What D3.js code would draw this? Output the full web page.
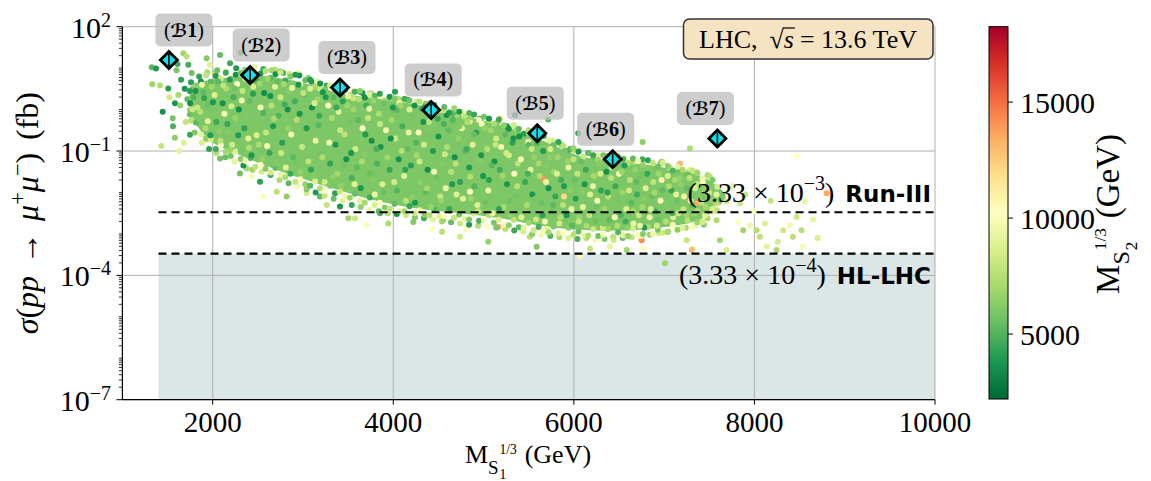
<!DOCTYPE html>
<html><head><meta charset="utf-8">
<script src="https://cdn.jsdelivr.net/npm/d3@7"></script>
<style>body{margin:0;background:#fff}svg{display:block}</style>
</head><body>
<svg id="chart" width="1151" height="481"></svg>
<script>
// ---------------- DATA ----------------
const xTicks = [2000, 4000, 6000, 8000, 10000];
const yTickExponents = [2, -1, -4, -7];
const colorTicks = [5000, 10000, 15000];
const benchmarkNames = ["1", "2", "3", "4", "5", "6", "7"];
const benchmarkMass = [1515, 2415, 3410, 4420, 5595, 6430, 7590];
const benchmarkSigma = [15.7, 6.8, 3.4, 0.98, 0.27, 0.063, 0.20];
const reachSigma = [3.33e-3, 3.33e-4];
const reachExponent = ["\u22123", "\u22124"];
const reachNames = ["Run-III", "HL-LHC"];
const reachStartMass = 1400;
// dense core of the scan (log10 sigma envelope)
const coreMass     = [1745, 1970, 2200, 2500, 2970, 3410, 3850, 4300, 4740, 5180, 5625, 6070, 6510, 6950, 7400, 7620, 7680];
const coreLogUpper = [0.55, 0.72, 0.78, 0.82, 0.66, 0.40, 0.26, 0.10, -0.13, -0.37, -0.72, -1.12, -1.26, -1.38, -1.60, -1.90, -2.05];
const coreLogLower = [-0.15, -0.75, -1.00, -1.28, -1.65, -1.95, -2.22, -2.40, -2.50, -2.62, -2.80, -2.90, -2.92, -2.85, -2.65, -2.30, -2.15];
// scan points: [M_S1 (GeV), log10 sigma (fb), M_S2 (GeV)]
const outerPoints = [
[1325,1.02,5200],[1372,0.99,3900],[1331,0.61,6800],[1416,0.58,7400],[1508,0.51,4100],[1446,-0.05,3600],[1557,-0.21,5800],[1582,-0.68,6400],[1431,-0.88,7900],[1630,-1.00,9200],[1675,1.36,6900],[1712,1.28,7600],[1730,1.08,4700],[1767,0.88,5600],[1619,0.35,7100],[1582,0.15,3800],[1749,-0.01,6300],[1767,-0.25,8100],[1749,-0.61,4400],[1480,1.15,3500],[1600,0.95,5900],[1650,0.72,4200],[1520,0.30,8300],[1690,0.50,3700],[1640,0.10,6600],[1700,-0.30,7800],[1560,-0.40,4900],[1680,-0.80,8800],[1720,0.25,5300],[1610,1.10,4500],
[1745,0.45,4200],[1770,0.30,6900],[1750,0.15,3600],[1775,0.00,8200],[1748,-0.12,5600],
[1933,1.24,6200],[2081,1.32,5400],[1970,1.08,8900],[2192,1.12,4600],[2025,0.88,7300],[2310,1.37,4800],[2690,0.97,7700],[2782,0.88,5100],[2948,0.88,9400],[2893,0.63,6000],[3096,0.67,3900],[3188,0.51,8200],[3742,0.39,5700],[3797,0.35,9900],[3686,0.15,6300],[4019,0.43,4100],[4111,0.23,7400],[4038,-0.01,5200],[3631,0.43,3600],[3557,0.27,8000],[4104,0.23,6600],[4683,-0.13,4400],[4590,-0.13,3500],[4701,-0.13,7100],[4849,-0.29,8600],[4960,-0.37,5900],[5182,-0.21,11500],[5348,-0.13,3800],[5716,-0.24,5000],[5495,-0.78,10400],[6049,-0.57,4300],[5791,-0.81,6800],[5993,-0.98,7900],[6215,-1.14,5600],[6658,-1.26,8300],[6621,-1.30,6100],[6972,-1.26,7000],[6762,-0.78,6400],[7285,-0.94,7200],[7175,-1.30,13200],[7285,-1.46,8700],
[2081,-1.18,5800],[2432,-1.62,9800],[2561,-2.10,10100],[2709,-1.98,7600],[2819,-2.10,6500],[2524,-1.74,4200],[2376,-1.42,7000],[3041,-2.02,8400],[3188,-2.10,5300],[3262,-2.30,7900],[3410,-2.34,3700],[3502,-2.62,6900],[3576,-2.62,8100],[3705,-2.79,10000],[3945,-2.75,7200],[4221,-2.71,6200],[3853,-2.50,4800],[2192,-0.98,6700],[1933,-0.73,8300],[2302,-1.54,5600],
[4433,-2.88,10300],[4540,-2.95,7500],[4550,-2.67,6000],[4740,-3.07,8200],[4809,-2.89,10100],[5052,-3.19,6700],[5163,-2.83,13800],[5513,-3.07,7300],[5698,-2.87,8900],[5588,-3.31,6100],[6178,-3.35,7800],[6400,-3.31,9200],[6585,-3.39,6900],[6751,-3.15,14200],[6768,-3.35,10400],[6067,-3.53,10600],[7249,-3.15,8000],[7322,-3.35,9500],[7009,-3.71,6800],[5661,-1.66,14000],[5891,-2.10,12000],[4849,-1.98,10200],
[8467,-1.12,10300],[8800,-2.02,13500],[8559,-2.21,9400],[8467,-2.59,8200],[8426,-3.07,7600],[8537,-3.31,9900],[8260,-3.19,8500],[8245,-3.39,7100],[8116,-2.75,8800],[8024,-2.91,7400],[7950,-2.79,9600],[7876,-2.91,6900],[7839,-2.26,8100],[7820,-2.71,10200],[8061,-3.07,7700],[8135,-3.31,9000],[8319,-2.91,8300],[8393,-2.79,9700],[8522,-2.91,7500],[7692,-3.39,8600],[7618,-3.15,7000],[7507,-1.62,7800],[7581,-2.30,9200],[7452,-1.94,6600],[7360,-2.26,13600],[7305,-3.39,13000],[7692,-2.22,8400],[7581,-2.67,7300],[7750,-1.85,9100],[7900,-2.05,8000],[8000,-2.45,10000],[8180,-2.20,7900],[8650,-2.65,9300],[8700,-3.10,8700],
[1850,0.80,4300],[1940,0.90,7200],[2050,0.95,5600],[2150,0.92,8800],[2260,1.00,3900],[2360,0.96,6500],[2460,1.02,9300],[2560,0.98,4700],[2650,0.95,7000],[2750,0.92,5200],[2850,0.86,8100],[2960,0.82,3700],[3060,0.76,6400],[3160,0.68,9000],[3260,0.58,4600],[3360,0.52,7300],[3460,0.48,5500],[3560,0.44,8400],[3660,0.40,3800],[3760,0.38,6800],[3860,0.34,9600],[3960,0.30,5000],[4060,0.26,7500],[4160,0.24,4200],[4260,0.20,8700],[4360,0.14,6000],[4460,0.05,3900],[4560,-0.02,7800],[4660,-0.08,5300],[4760,-0.05,9100],[4860,-0.18,6600],[4960,-0.22,4500],[5060,-0.25,8000],[5160,-0.30,6200],[5260,-0.40,3700],[5360,-0.45,7400],[5460,-0.55,9500],[5560,-0.60,5600],[5660,-0.62,4100],[5760,-0.75,8200],[5860,-0.85,6700],[5960,-0.95,5000],[6060,-1.00,7600],[6160,-1.05,4300],[6260,-1.10,9000],[6360,-1.12,6300],[6460,-1.15,5400],[6560,-1.18,8500],[6660,-1.22,7100],[6760,-1.20,4600],[6860,-1.28,9200],[6960,-1.30,6000],[7060,-1.40,7900],[7160,-1.45,5500],[7260,-1.50,8600],[7360,-1.52,6900],
[1800,-0.55,6000],[1880,-0.80,8700],[1960,-0.95,4200],[2040,-1.05,7300],[2140,-1.15,5500],[2240,-1.25,9200],[2340,-1.35,3800],[2440,-1.45,6800],[2540,-1.50,8500],[2640,-1.58,4600],[2740,-1.70,7100],[2840,-1.78,5300],[2940,-1.85,9700],[3040,-1.92,6200],[3140,-2.00,3900],[3240,-2.08,7800],[3340,-2.15,5600],[3440,-2.20,8900],[3540,-2.30,4400],[3640,-2.35,6600],[3740,-2.42,9400],[3840,-2.45,5100],[3940,-2.50,7400],[4040,-2.52,3700],[4140,-2.55,8300],[4240,-2.60,6000],[4340,-2.62,4700],[4440,-2.65,9000],[4540,-2.70,6900],[4640,-2.72,5400],[4740,-2.75,8100],[4840,-2.78,4000],[4940,-2.80,7300],[5040,-2.82,10100],[5140,-2.85,5900],[5240,-2.88,7700],[5340,-2.92,4500],[5440,-2.95,8600],[5540,-3.00,6300],[5640,-3.02,9500],[5740,-3.05,5000],[5840,-3.08,7200],[5940,-3.10,8800],[6040,-3.12,4800],[6140,-3.10,7500],[6240,-3.15,9900],[6340,-3.12,6100],[6440,-3.15,8400],[6540,-3.10,5200],[6640,-3.08,7800],[6740,-3.05,9600],[6840,-3.02,6700],[6940,-2.98,8200],[7040,-2.95,5700],[7140,-2.90,9300],[7240,-2.85,7000],[7340,-2.80,8700],[7440,-2.78,6400]
];
const edgeTopPoints = [
[1760,0.66,4100],[1815,0.58,6300],[1870,0.68,3700],[1925,0.83,7800],[1980,0.67,5200],[2035,0.81,3900],[2090,0.75,8400],[2145,0.89,4500],[2200,0.75,6600],[2255,0.84,3600],[2310,0.88,5800],[2365,0.74,9000],[2420,0.95,4300],[2475,0.80,6900],[2530,0.87,3800],[2585,0.93,7400],[2640,0.76,5000],[2695,0.85,3500],[2750,0.90,8100],[2805,0.70,4600],[2860,0.79,6200],[2915,0.84,3900],[2970,0.62,9400],[3025,0.71,5400],[3080,0.72,4000],[3135,0.55,7100],[3190,0.63,3600],[3245,0.49,6000],[3300,0.58,8600],[3355,0.53,4400],[3410,0.38,5600],[3465,0.48,3700],[3520,0.35,7700],[3575,0.43,4800],[3630,0.45,6400],[3685,0.29,3500],[3740,0.37,8800],[3795,0.33,5100],[3850,0.38,4200],[3905,0.22,7000],[3960,0.31,3800],[4015,0.27,6100],[4070,0.16,9200],[4125,0.26,4700],[4180,0.22,5700],[4235,0.10,3600],[4290,0.19,7500],[4345,0.06,4300],[4400,0.15,6700],[4455,0.11,3900],[4510,-0.02,8300],[4565,0.06,5300],[4620,-0.07,4000],[4675,0.03,6800],[4730,-0.05,3700],[4785,-0.16,7900],[4840,-0.08,5000],[4895,-0.12,4400],[4950,-0.25,9600],[5005,-0.17,5900],[5060,-0.22,3800],[5115,-0.34,7200],[5170,-0.24,4600],[5225,-0.38,6500],[5280,-0.46,3600],[5335,-0.37,8500],[5390,-0.47,5200],[5445,-0.58,4100],[5500,-0.50,7300],[5555,-0.60,4700],[5610,-0.72,6000],[5665,-0.64,3900],[5720,-0.74,8900],[5775,-0.86,5500],[5830,-0.78,4300],[5885,-0.88,7600],[5940,-0.99,5000],[5995,-0.93,6700],[6050,-1.02,3800],[6105,-1.14,8200],[6160,-1.05,5400],[6215,-1.10,4500],[6270,-1.21,7000],[6325,-1.10,5900],[6380,-1.16,3700],[6435,-1.25,8700],[6490,-1.13,6200],[6545,-1.20,4800],[6600,-1.29,7400],[6655,-1.18,5300],[6710,-1.24,9800],[6765,-1.34,6600],[6820,-1.22,4200],[6875,-1.29,7800],[6930,-1.38,5700],[6985,-1.28,8400],[7040,-1.36,6300],[7095,-1.47,4900],[7150,-1.38,9100],[7205,-1.45,7100],[7260,-1.56,5600],[7315,-1.47,8000],[7370,-1.53,6800],[7425,-1.66,9500],[7480,-1.58,7300],[7535,-1.70,6000],[7590,-1.86,8500]
];
const edgeBottomPoints = [
[1760,-0.27,7600],[1815,-0.31,5200],[1870,-0.60,9100],[1925,-0.70,6500],[1980,-0.72,8300],[2035,-0.95,4700],[2090,-0.86,10000],[2145,-1.02,7000],[2200,-1.12,5800],[2255,-1.01,8800],[2310,-1.19,6300],[2365,-1.24,9600],[2420,-1.17,4900],[2475,-1.38,7700],[2530,-1.33,10300],[2585,-1.43,6100],[2640,-1.52,8500],[2695,-1.41,5400],[2750,-1.58,9300],[2805,-1.63,7200],[2860,-1.55,4500],[2915,-1.74,8000],[2970,-1.68,9900],[3025,-1.80,6600],[3080,-1.84,5100],[3135,-1.73,8700],[3190,-1.90,7400],[3245,-1.96,10100],[3300,-1.84,6000],[3355,-2.02,4300],[3410,-1.98,8200],[3465,-2.10,9500],[3520,-2.13,6800],[3575,-2.03,5500],[3630,-2.20,9000],[3685,-2.24,7100],[3740,-2.12,4600],[3795,-2.30,8600],[3850,-2.25,10400],[3905,-2.36,6200],[3960,-2.39,7800],[4015,-2.27,5300],[4070,-2.44,9400],[4125,-2.45,6900],[4180,-2.33,4400],[4235,-2.50,8100],[4290,-2.43,9800],[4345,-2.54,6400],[4400,-2.55,7500],[4455,-2.41,5000],[4510,-2.58,8900],[4565,-2.57,10200],[4620,-2.44,6700],[4675,-2.61,7900],[4730,-2.53,5600],[4785,-2.63,9200],[4840,-2.65,6100],[4895,-2.51,8400],[4950,-2.68,4800],[5005,-2.67,9700],[5060,-2.55,7300],[5115,-2.73,5900],[5170,-2.66,8800],[5225,-2.77,10500],[5280,-2.79,6500],[5335,-2.66,7700],[5390,-2.84,5200],[5445,-2.85,9100],[5500,-2.73,6800],[5555,-2.91,8300],[5610,-2.83,4700],[5665,-2.95,9900],[5720,-2.96,7000],[5775,-2.82,6000],[5830,-2.99,8600],[5885,-2.98,10300],[5940,-2.85,6300],[5995,-3.02,7600],[6050,-2.94,5400],[6105,-3.03,9300],[6160,-3.04,7200],[6215,-2.88,8100],[6270,-3.05,5700],[6325,-3.02,9800],[6380,-2.89,6900],[6435,-3.06,7800],[6490,-2.96,5100],[6545,-3.04,9000],[6600,-3.05,6600],[6655,-2.87,8500],[6710,-3.02,10100],[6765,-3.00,6200],[6820,-2.84,7400],[6875,-3.00,9500],[6930,-2.90,5800],[6985,-2.97,8200],[7040,-2.95,7000],[7095,-2.78,9600],[7150,-2.90,6400],[7205,-2.86,8800],[7260,-2.68,7500],[7315,-2.83,10000],[7370,-2.72,6700],[7425,-2.71,8400],[7480,-2.62,7100],[7535,-2.47,9200],[7590,-2.44,7800]
];
const innerPoints = [
[1810,0.45,3700],[1830,0.05,8200],[1850,-0.22,6100],[1880,0.60,9400],[1905,0.28,4300],[1920,-0.45,7300],[1950,0.12,5600],[1975,-0.62,3900],[1990,0.55,6900],
[2020,0.35,8800],[2040,-0.30,4500],[2060,0.68,5200],[2085,-0.75,7700],[2110,0.15,3600],[2130,-0.10,9900],[2150,0.50,7100],[2170,-0.55,6200],[2190,0.72,4000],
[2215,-0.85,8400],[2230,0.30,4800],[2250,-0.20,6700],[2270,0.62,10200],[2290,0.00,3500],[2310,-0.98,5900],[2330,0.45,7900],[2350,-0.45,4200],[2380,0.75,6300],[2395,-0.70,9100],
[2410,0.20,5400],[2430,-1.10,3800],[2450,0.55,8600],[2470,-0.30,6000],[2490,0.70,4600],[2510,-0.85,7200],[2530,0.05,9600],[2550,-1.20,6500],[2570,0.40,3400],[2590,-0.55,8000],
[2610,0.75,6800],[2630,-1.05,4400],[2650,0.10,7600],[2670,-0.40,3900],[2690,0.55,9000],[2710,-1.30,6100],[2730,-0.15,5000],[2750,0.30,8300],[2770,-0.80,4100],[2790,0.62,7000],
[2810,-1.40,8900],[2830,0.00,3600],[2850,0.45,6400],[2870,-0.60,9800],[2890,-1.15,5200],[2910,0.20,4700],[2930,-0.25,7400],[2950,0.60,3800],[2970,-1.50,6600],[2990,-0.90,8100],
[3020,0.35,5500],[3040,-0.45,4000],[3060,-1.25,7800],[3080,0.50,8700],[3100,0.05,3500],[3120,-1.60,6200],[3140,-0.75,9300],[3160,0.25,6800],[3180,-0.15,4500],[3195,-1.05,5700],
[3220,0.42,3700],[3240,-1.75,8400],[3260,-0.50,6000],[3280,0.10,10500],[3300,-1.30,4300],[3320,-0.20,7200],[3340,0.30,5100],[3360,-0.85,3900],[3380,-1.55,7000],[3395,-0.05,8900],
[3420,-1.85,6500],[3440,0.20,4200],[3460,-0.60,7700],[3480,-1.20,3600],[3500,0.32,9200],[3520,-0.30,5800],[3540,-1.65,4800],[3560,0.00,6900],[3580,-0.95,8500],[3595,-1.40,5300],
[3620,0.25,7500],[3640,-1.90,3800],[3660,-0.45,10100],[3680,-1.10,6300],[3700,0.10,4600],[3720,-0.20,8000],[3740,-1.55,5500],[3760,-0.75,3500],[3780,0.22,6700],[3795,-2.05,9400],
[3820,-1.30,4900],[3840,-0.10,7300],[3860,-0.90,3700],[3880,-1.80,8600],[3900,0.15,5600],[3920,-0.50,9700],[3940,-2.10,6100],[3960,-1.45,4400],[3980,-0.25,7100],[3995,0.05,3900],
[4020,-0.70,8200],[4040,-1.95,5000],[4060,-1.20,3600],[4080,0.10,6800],[4100,-0.40,4700],[4120,-1.60,9000],[4140,-2.20,7600],[4160,-0.95,5400],[4180,0.00,8800],[4195,-1.35,4100],
[4220,-0.20,5900],[4240,-2.25,3800],[4260,-1.10,7000],[4280,-0.55,10300],[4300,-1.75,6400],[4320,0.02,4300],[4340,-0.85,8400],[4360,-2.00,5300],[4380,-1.45,3500],[4395,-0.30,7800],
[4420,-2.35,6700],[4440,-1.00,4000],[4460,-0.10,9100],[4480,-1.65,5700],[4500,-0.65,3700],[4520,-2.10,8000],[4540,-1.30,6200],[4560,-0.35,4800],[4580,-1.90,9500],[4595,-0.90,7300],
[4620,-2.40,4500],[4640,-1.50,7600],[4660,-0.25,5100],[4680,-1.15,3600],[4700,-2.05,8700],[4720,-0.70,6600],[4740,-1.75,4200],[4760,-0.45,9300],[4780,-2.30,6000],[4795,-1.00,5300],
[4820,-0.30,7200],[4840,-1.40,3900],[4860,-2.15,6800],[4880,-0.85,8900],[4900,-1.85,5000],[4920,-0.55,4300],[4940,-2.45,7900],[4960,-1.20,6300],[4980,-0.35,10000],[4995,-1.60,3700],
[5020,-2.25,5600],[5040,-0.95,7500],[5060,-1.70,4100],[5080,-0.50,6900],[5100,-2.50,9200],[5120,-1.25,3600],[5140,-0.70,8300],[5160,-2.00,6100],[5180,-1.45,4600],[5195,-0.90,9800],
[5220,-2.35,7100],[5240,-0.60,5300],[5260,-1.80,3800],[5280,-1.10,8500],[5300,-2.55,6400],[5320,-0.80,4200],[5340,-1.55,10400],[5360,-2.10,5800],[5380,-1.30,7700],[5395,-0.65,3500],
[5420,-2.60,8800],[5440,-1.00,6000],[5460,-1.75,4500],[5480,-2.30,7300],[5500,-0.85,5200],[5520,-1.45,9000],[5540,-2.05,3700],[5560,-1.15,6600],[5580,-2.65,8100],[5595,-0.80,4900],
[5620,-1.60,7400],[5640,-2.25,5500],[5660,-1.00,4000],[5680,-2.70,9600],[5700,-1.35,6200],[5720,-1.90,3600],[5740,-0.95,8600],[5760,-2.45,5700],[5780,-1.50,7000],[5795,-2.10,4400],
[5820,-1.15,6800],[5840,-2.75,8300],[5860,-1.70,4700],[5880,-2.30,7600],[5900,-1.00,5900],[5920,-2.55,3800],[5940,-1.40,9400],[5960,-1.95,6400],[5980,-2.80,5100],[5995,-1.20,7800],
[6020,-2.15,4100],[6040,-1.55,8000],[6060,-2.60,6700],[6080,-1.25,5400],[6100,-2.35,9100],[6120,-1.80,3700],[6140,-2.80,7200],[6160,-1.35,6000],[6180,-2.05,8800],[6195,-2.50,4800],
[6220,-1.60,7100],[6240,-2.70,5600],[6260,-2.20,9900],[6280,-1.30,6300],[6300,-1.95,4300],[6320,-2.85,8200],[6340,-2.40,6900],[6360,-1.50,3600],[6380,-2.10,7500],[6395,-2.65,5300],
[6420,-1.40,8500],[6440,-2.30,6100],[6460,-1.85,4500],[6480,-2.80,7300],[6500,-1.55,9700],[6520,-2.55,5000],[6540,-2.00,6800],[6560,-1.35,4000],[6580,-2.40,8700],[6595,-2.85,6500],
[6620,-1.70,7700],[6640,-2.25,5200],[6660,-2.75,9300],[6680,-1.45,6600],[6700,-2.05,4600],[6720,-2.55,8000],[6740,-1.60,5800],[6760,-2.35,7000],[6780,-2.85,3900],[6795,-1.90,8900],
[6820,-1.40,6200],[6840,-2.60,9500],[6860,-2.10,5500],[6880,-1.75,7800],[6900,-2.45,4700],[6920,-2.80,8400],[6940,-1.55,6900],[6960,-2.20,10200],[6980,-1.95,5300],
[7020,-2.70,7400],[7040,-1.60,8600],[7060,-2.35,6000],[7080,-1.95,4400],[7100,-2.60,9000],[7120,-1.70,7100],[7140,-2.20,5600],[7160,-2.50,8100],[7180,-1.80,6500],
[7220,-2.10,9400],[7250,-2.55,6800],[7280,-1.65,7700],[7310,-2.30,5100],[7340,-1.90,8800],[7370,-2.45,7300],[7400,-2.05,6100],[7430,-1.75,9900],[7460,-2.35,7000],[7500,-2.00,8300],[7540,-2.20,6600],[7580,-2.05,9100],
[1785,0.30,4900],[1862,-0.05,7600],[1897,0.41,5300],[1946,-0.28,9100],[2003,0.18,3800],[2072,-0.52,6400],[2118,0.58,7900],[2163,-0.35,4400],[2207,0.08,8300],[2244,0.51,5700],[2283,-0.62,3900],[2321,0.22,9500],[2368,-0.15,6100],[2402,-0.92,7400],[2447,0.38,4100],[2486,-0.62,8800],[2519,0.63,6900],[2561,-0.08,5000],[2603,-0.88,9900],[2638,0.33,3600],[2677,-0.22,7100],[2716,0.68,5400],[2758,-1.05,8200],[2797,0.12,4700],[2836,-0.45,6600],[2879,0.52,9300],[2921,-1.28,5800],[2963,-0.10,3700],[3004,0.40,7800],[3047,-0.72,6000],[3089,-1.45,4200],[3127,0.15,8600],[3172,-0.38,5100],[3213,-1.15,7300],[3252,0.30,3900],[3291,-0.80,9600],[3333,-1.62,6500],[3371,0.05,4500],[3412,-0.50,8100],[3449,-1.35,5700],[3491,0.10,6800],[3533,-1.05,3800],[3571,-1.80,8900],[3612,-0.25,5200],[3653,-1.25,7200],[3691,-0.60,4000],[3733,0.02,9400],[3771,-1.68,6200],[3812,-0.95,4800],[3853,-0.35,8000],[3891,-2.00,5500],[3934,-1.15,6900],[3973,-0.70,3600],[4011,-1.75,8500],[4053,-0.15,5900],[4092,-1.00,7500],[4133,-1.45,4300],[4171,-0.55,9200],[4212,-2.12,6400],[4253,-0.80,5000],[4291,-1.25,8300],[4333,-0.30,3700],[4372,-1.90,7000],[4411,-0.65,5800],[4452,-1.50,9700],[4493,-0.22,4400],[4532,-2.20,6700],[4571,-1.08,8200],[4612,-0.50,5300],[4653,-1.80,3900],[4692,-1.30,7700],[4733,-0.40,6100],[4772,-2.15,9000],[4813,-0.95,4600],[4851,-1.62,7400],[4893,-0.60,5500],[4932,-2.30,8700],[4973,-1.10,3800],[5012,-0.45,6600],[5053,-1.95,9500],[5091,-1.35,5100],[5133,-0.85,7900],[5172,-2.40,4200],[5211,-1.60,6900],[5252,-1.05,8400],[5293,-2.20,5600],[5331,-0.70,3700],[5372,-1.85,7600],[5413,-1.20,9900],[5452,-2.45,6300],[5491,-1.55,4800],[5533,-0.95,8100],[5572,-2.15,5900],[5611,-1.30,7100],[5653,-2.55,4300],[5692,-1.75,9300],[5733,-1.15,6500],[5771,-2.30,5200],[5812,-1.55,8800],[5853,-2.60,7300],[5891,-1.85,4000],[5932,-1.25,6700],[5973,-2.40,9600],[6012,-1.70,5500],[6053,-2.70,8000],[6091,-2.00,6200],[6133,-1.45,4500],[6172,-2.55,7800],[6211,-1.85,9200],[6252,-2.35,5700],[6293,-1.55,8500],[6331,-2.75,6000],[6372,-2.00,4200],[6413,-1.65,7700],[6452,-2.60,10100],[6491,-2.15,5900],[6533,-1.50,6800],[6572,-2.70,4700],[6611,-1.95,8300],[6653,-2.45,7100],[6692,-1.75,5300],[6733,-2.80,9400],[6771,-2.15,6300],[6812,-1.55,4400],[6853,-2.40,8700],[6891,-2.00,7000],[6933,-2.65,5600],[6972,-1.70,9800],[7012,-2.30,6100],[7053,-1.85,7400],[7091,-2.50,4900],[7133,-2.05,8900],[7172,-1.65,6600],[7213,-2.40,7900],[7252,-1.90,5400],[7293,-2.20,9300],[7333,-2.50,6800],[7372,-1.80,8200],[7413,-2.25,7600],[7453,-2.55,9000],[7493,-1.90,6400],[7533,-2.40,8600],[7572,-2.25,7200]
];

// ---------------- LAYOUT ----------------
const W = 1151, H = 481;
const plot = {left: 122.4, right: 935, top: 26.7, bottom: 399.7};
const cbar = {x: 989, w: 19, top: 26.7, bottom: 399};
const SERIF = "'Liberation Serif','DejaVu Serif',serif";
const SANS = "'DejaVu Sans','Liberation Sans',sans-serif";
const labelDx = [15, 11, 7, 2, -2, -7, -12];

const svg = d3.select('#chart');
svg.append('rect').attr('width', W).attr('height', H).attr('fill', '#fff');

const x = d3.scaleLinear().domain([1000, 10000]).range([plot.left, plot.right]);
const y = d3.scaleLog().domain([1e-7, 1e2]).range([plot.bottom, plot.top]);
const cDomain = [2200, 18250];
const rdylgn = ["#006837","#1a9850","#66bd63","#a6d96a","#d9ef8b","#ffffbf","#fee08b","#fdae61","#f46d43","#d73027","#a50026"];
const color = d3.scaleLinear()
  .domain(d3.range(11).map(i => cDomain[0] + i * (cDomain[1] - cDomain[0]) / 10))
  .range(rdylgn).interpolate(d3.interpolateRgb).clamp(true);

function seq(g, parts) {
  let cx = 0, stackStart = null, stackW = 0;
  parts.forEach(p => {
    if (stackStart === null) cx += (p.gap || 0);
    const px = stackStart !== null ? stackStart : cx;
    const t = g.append('text').attr('x', px).attr('y', p.dy || 0)
      .attr('font-family', p.family || SERIF).attr('font-size', p.size)
      .attr('font-style', p.italic ? 'italic' : 'normal')
      .attr('font-weight', p.bold ? 'bold' : 'normal')
      .attr('fill', '#000').text(p.t);
    const w = t.node().getComputedTextLength();
    if (p.stack) { stackStart = px; stackW = w; }
    else if (stackStart !== null) { cx = stackStart + Math.max(stackW, w); stackStart = null; }
    else cx = px + w;
  });
  return cx;
}

// shaded HL-LHC region
svg.append('rect')
  .attr('x', x(reachStartMass)).attr('y', y(reachSigma[1]))
  .attr('width', x(10000) - x(reachStartMass))
  .attr('height', y(1e-7) - y(reachSigma[1]))
  .attr('fill', '#dbe7e7');

// grid
const grid = svg.append('g').attr('stroke', '#b0b0b0').attr('stroke-width', 1);
xTicks.forEach(v => grid.append('line').attr('x1', x(v)).attr('x2', x(v)).attr('y1', plot.top).attr('y2', plot.bottom));
yTickExponents.forEach(e => grid.append('line').attr('x1', plot.left).attr('x2', plot.right).attr('y1', y(Math.pow(10, e))).attr('y2', y(Math.pow(10, e))));

// dense core
const core = coreMass.map((m, i) => ({m, u: coreLogUpper[i], l: coreLogLower[i]}));
svg.append('path').datum(core)
  .attr('d', d3.area().x(d => x(d.m)).y0(d => y(Math.pow(10, d.l))).y1(d => y(Math.pow(10, d.u))).curve(d3.curveCatmullRom))
  .attr('fill', color(6000));

// scatter
const allPoints = outerPoints.concat(edgeTopPoints, edgeBottomPoints, innerPoints);
svg.append('g').selectAll('circle').data(allPoints).join('circle')
  .attr('cx', d => x(d[0])).attr('cy', d => y(Math.pow(10, d[1])))
  .attr('r', 3).attr('fill', d => color(d[2]));

// dashed reach lines
reachSigma.forEach(s => svg.append('line')
  .attr('x1', x(reachStartMass)).attr('x2', x(10000)).attr('y1', y(s)).attr('y2', y(s))
  .attr('stroke', '#000').attr('stroke-width', 2.2).attr('stroke-dasharray', '8,5'));

// reach labels
const reachBaselineOffset = [-10, 30];
reachSigma.forEach((s, i) => {
  const g = svg.append('g');
  const w = seq(g, [
    {t: '(3.33 \u00d7 10', size: 28},
    {t: reachExponent[i], size: 20, dy: -12},
    {t: ')', size: 28},
    {t: reachNames[i], size: 23, family: SANS, bold: true, gap: 11}
  ]);
  g.attr('transform', `translate(${931 - w},${y(s) + reachBaselineOffset[i]})`);
});

// benchmarks
benchmarkMass.forEach((m, i) => {
  const cx = x(m), cy = y(benchmarkSigma[i]);
  const g = svg.append('g').attr('transform', `translate(${cx},${cy})`);
  g.append('path').attr('d', 'M0,-10.5L10.5,0L0,10.5L-10.5,0Z').attr('fill', '#000');
  g.append('path').attr('d', 'M0,-6.5L6.5,0L0,6.5L-6.5,0Z').attr('fill', '#12e2ea');
  g.append('line').attr('x1', 0).attr('x2', 0).attr('y1', -6).attr('y2', 6).attr('stroke', '#000').attr('stroke-width', 1.6);
  const lx = cx + labelDx[i], ly = cy - 30;
  svg.append('rect').attr('x', lx - 28.5).attr('y', ly - 16.5).attr('width', 57).attr('height', 33)
    .attr('rx', 5).attr('fill', '#c0c0c0').attr('fill-opacity', 0.8);
  const t = svg.append('text').attr('x', lx).attr('y', ly + 6.5).attr('text-anchor', 'middle')
    .attr('font-family', SERIF).attr('font-size', 20);
  t.append('tspan').text('(');
  t.append('tspan').attr('font-family', "'DejaVu Serif','DejaVu Sans',serif").attr('font-weight', 'bold').attr('font-size', 18).text('\u212C');
  t.append('tspan').attr('font-weight', 'bold').text(benchmarkNames[i]);
  t.append('tspan').text(')');
});

// LHC box
svg.append('rect').attr('x', 683.5).attr('y', 19).attr('width', 249.5).attr('height', 40).attr('rx', 6)
  .attr('fill', '#f6e3c1').attr('stroke', '#333').attr('stroke-width', 1.5);
{
  const g = svg.append('g');
  const parts = [
    {t: 'LHC,', size: 26},
    {t: '\u221A', size: 26, gap: 12},
    {t: 's', size: 26, italic: true},
    {t: '= 13.6 TeV', size: 26, gap: 6}
  ];
  const w = seq(g, parts);
  const nodes = g.selectAll('text').nodes();
  const sx = +nodes[2].getAttribute('x'), sw = nodes[2].getComputedTextLength();
  g.append('line').attr('x1', sx - 1).attr('x2', sx + sw + 1).attr('y1', -19.5).attr('y2', -19.5).attr('stroke', '#000').attr('stroke-width', 1.2);
  g.attr('transform', `translate(${808 - w / 2},47.5)`);
}

// axes spines
svg.append('line').attr('x1', plot.left).attr('x2', plot.left).attr('y1', plot.top).attr('y2', plot.bottom).attr('stroke', '#000').attr('stroke-width', 1.2);
svg.append('line').attr('x1', plot.left).attr('x2', plot.right).attr('y1', plot.bottom).attr('y2', plot.bottom).attr('stroke', '#000').attr('stroke-width', 1.2);

// x ticks
xTicks.forEach(v => {
  svg.append('line').attr('x1', x(v)).attr('x2', x(v)).attr('y1', plot.bottom).attr('y2', plot.bottom + 5).attr('stroke', '#000').attr('stroke-width', 1);
  svg.append('text').attr('x', x(v)).attr('y', 432).attr('text-anchor', 'middle')
    .attr('font-family', SERIF).attr('font-size', 29).text(d3.format('d')(v));
});

// y ticks (log)
for (let k = -7; k <= 2; k++) {
  for (let mm = 1; mm <= 9; mm++) {
    const v = mm * Math.pow(10, k);
    if (v > 100 * 1.0001) continue;
    const major = mm === 1 && yTickExponents.includes(k);
    const len = major ? 6 : 3.5;
    svg.append('line').attr('x1', plot.left - len).attr('x2', plot.left).attr('y1', y(v)).attr('y2', y(v))
      .attr('stroke', '#000').attr('stroke-width', major ? 1 : 0.8);
  }
}
yTickExponents.forEach(e => {
  const g = svg.append('g');
  const w = seq(g, [
    {t: '10', size: 30},
    {t: (e < 0 ? '\u2212' : '') + Math.abs(e), size: 20, dy: -11}
  ]);
  g.attr('transform', `translate(${111 - w},${y(Math.pow(10, e)) + 11})`);
});

// mass label builder
function massLabel(parent, idx, s, sDy, supDy, subDy) {
  const g = parent.append('g');
  const w = seq(g, [
    {t: 'M', size: s},
    {t: 'S', size: 0.73 * s, dy: sDy * s},
    {t: '1/3', size: 0.52 * s, dy: supDy * s, stack: true, gap: 1},
    {t: idx, size: 0.52 * s, dy: subDy * s},
    {t: '(GeV)', size: s, gap: 0.3 * s}
  ]);
  return {g, w};
}
{
  const lab = massLabel(svg, '1', 26, 0.42, -0.33, 0.62);
  lab.g.attr('transform', `translate(${528 - lab.w / 2},463)`);
}
{
  const outer = svg.append('g').attr('transform', 'translate(1119,214) rotate(-90)');
  const lab = massLabel(outer, '2', 33, 0.3, -0.38, 0.55);
  lab.g.attr('transform', `translate(${-lab.w / 2},0)`);
}
// y label
{
  const outer = svg.append('g').attr('transform', `translate(38,${(plot.top + plot.bottom) / 2}) rotate(-90)`);
  const g = outer.append('g');
  const s = 32;
  const w = seq(g, [
    {t: '\u03C3', size: s, italic: true},
    {t: '(', size: s},
    {t: 'pp', size: s, italic: true},
    {t: '\u2192', size: s, gap: 0.36 * s},
    {t: '\u03BC', size: s, italic: true, gap: 0.36 * s},
    {t: '+', size: 0.7 * s, dy: -0.42 * s},
    {t: '\u03BC', size: s, italic: true},
    {t: '\u2212', size: 0.7 * s, dy: -0.42 * s},
    {t: ')', size: s},
    {t: '(fb)', size: s, gap: 0.4 * s}
  ]);
  g.attr('transform', `translate(${-w / 2},0)`);
}

// colorbar
const defs = svg.append('defs');
const grad = defs.append('linearGradient').attr('id', 'cbgrad').attr('x1', 0).attr('x2', 0).attr('y1', 1).attr('y2', 0);
d3.range(0, 1.0001, 0.02).forEach(t => grad.append('stop').attr('offset', t)
  .attr('stop-color', color(cDomain[0] + t * (cDomain[1] - cDomain[0]))));
svg.append('rect').attr('x', cbar.x).attr('y', cbar.top).attr('width', cbar.w).attr('height', cbar.bottom - cbar.top)
  .attr('fill', 'url(#cbgrad)').attr('stroke', '#000').attr('stroke-width', 1);
const cy = d3.scaleLinear().domain(cDomain).range([cbar.bottom, cbar.top]);
colorTicks.forEach(v => {
  svg.append('line').attr('x1', cbar.x + cbar.w).attr('x2', cbar.x + cbar.w + 5).attr('y1', cy(v)).attr('y2', cy(v)).attr('stroke', '#000');
  svg.append('text').attr('x', 1020).attr('y', cy(v) + 10.5).attr('font-family', SERIF).attr('font-size', 30).text(v);
});
</script>
</body></html>
